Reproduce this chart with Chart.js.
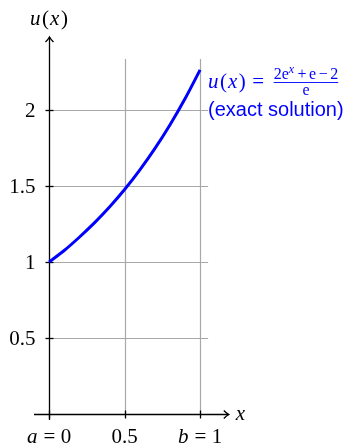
<!DOCTYPE html>
<html lang="en">
<head>
  <meta charset="UTF-8">
  <title>Exact solution u(x)</title>
  <script src="https://cdn.jsdelivr.net/npm/chart.js"></script>
  <style>
    body { margin: 0; background: #ffffff; }
    #wrap { width: 354px; height: 444px; }
  </style>
</head>
<body>
  <div id="wrap"><canvas id="solChart" width="354" height="444"></canvas></div>

  <script>
    // sampled points of the exact solution
    const xs = [0, 0.1, 0.2, 0.3, 0.4, 0.5, 0.6, 0.7, 0.8, 0.9, 1.0];
    const us = [1.0, 1.0756, 1.1629, 1.2574, 1.3619, 1.4773, 1.6049, 1.7459, 1.9017, 2.0739, 2.2642];

    // tick positions and their labels
    const xTicks = [0, 0.5, 1];
    const xTickLabels = ['a = 0', '0.5', 'b = 1'];
    const yTicks = [0.5, 1, 1.5, 2];
    const yTickLabels = ['0.5', '1', '1.5', '2'];

    const serif = '"Liberation Serif", "DejaVu Serif", serif';
    const sans = '"Liberation Sans", "DejaVu Sans", sans-serif';
    const blue = '#0000ff';
    const roman = s => s + 'px ' + serif;
    const italic = s => 'italic ' + s + 'px ' + serif;

    // math-style text: italic letters, upright digits/operators, extra space around '='
    function mathRuns(str, size) {
      const runs = [];
      for (const ch of str) {
        if (ch === ' ') continue;
        if (/[a-z]/.test(ch)) runs.push({ t: ch, f: italic(size), gap: 0.5 });
        else if (ch === '=') runs.push({ t: ch, f: roman(size), gap: 5.5, pre: 5.5 });
        else if (ch === '(' || ch === ')') runs.push({ t: ch, f: roman(size), gap: 1, pre: 1 });
        else runs.push({ t: ch, f: roman(size), gap: 0 });
      }
      return runs;
    }

    function runsWidth(c, runs) {
      let w = 0;
      runs.forEach(r => { c.font = r.f; w += (r.pre || 0) + c.measureText(r.t).width + r.gap; });
      return w;
    }

    function drawRuns(c, runs, x, y) {
      runs.forEach(r => {
        x += r.pre || 0;
        c.font = r.f;
        c.fillText(r.t, x, y + (r.dy || 0));
        x += c.measureText(r.t).width + r.gap;
      });
      return x;
    }

    function arrowHead(c, x, y, dir) {
      // small open arrow tip
      c.beginPath();
      if (dir === 'right') {
        c.moveTo(x - 5, y - 4); c.quadraticCurveTo(x - 2, y - 1, x, y);
        c.quadraticCurveTo(x - 2, y + 1, x - 5, y + 4);
      } else {
        c.moveTo(x - 4, y + 5); c.quadraticCurveTo(x - 1, y + 2, x, y);
        c.quadraticCurveTo(x + 1, y + 2, x + 4, y + 5);
      }
      c.stroke();
    }

    const axesPlugin = {
      id: 'axesPlugin',
      beforeDatasetsDraw(chart) {
        const c = chart.ctx;
        const sx = chart.scales.x, sy = chart.scales.y;
        const x0 = sx.getPixelForValue(0), y0 = sy.getPixelForValue(0);
        c.save();
        // grid
        c.strokeStyle = '#a8a8a8';
        c.lineWidth = 1.2;
        const gridTop = sy.getPixelForValue(2.335);
        const gridRight = sx.getPixelForValue(1.053);
        xTicks.forEach(v => {
          if (v === 0) return;
          const px = Math.round(sx.getPixelForValue(v)) + 0.5;
          c.beginPath(); c.moveTo(px, y0); c.lineTo(px, gridTop); c.stroke();
        });
        yTicks.forEach(v => {
          const py = Math.round(sy.getPixelForValue(v)) + 0.5;
          c.beginPath(); c.moveTo(x0, py); c.lineTo(gridRight, py); c.stroke();
        });
        // axes
        c.strokeStyle = '#000000';
        c.lineWidth = 1.3;
        const ax = Math.round(x0) + 0.5, ay = Math.round(y0) + 0.5;
        const xEnd = sx.getPixelForValue(1.19);
        const yEnd = sy.getPixelForValue(2.48);
        c.beginPath(); c.moveTo(sx.getPixelForValue(-0.1), ay); c.lineTo(xEnd, ay); c.stroke();
        c.beginPath(); c.moveTo(ax, sy.getPixelForValue(-0.04)); c.lineTo(ax, yEnd); c.stroke();
        arrowHead(c, xEnd, ay, 'right');
        arrowHead(c, ax, yEnd, 'up');
        // tick marks
        xTicks.forEach(v => {
          const px = Math.round(sx.getPixelForValue(v)) + 0.5;
          c.beginPath(); c.moveTo(px, ay - 4); c.lineTo(px, ay + 4); c.stroke();
        });
        yTicks.forEach(v => {
          const py = Math.round(sy.getPixelForValue(v)) + 0.5;
          c.beginPath(); c.moveTo(ax - 4, py); c.lineTo(ax + 4, py); c.stroke();
        });
        // tick labels
        c.fillStyle = '#000000';
        c.textBaseline = 'alphabetic';
        c.textAlign = 'left';
        yTicks.forEach((v, i) => {
          const runs = mathRuns(yTickLabels[i], 21);
          const w = runsWidth(c, runs);
          drawRuns(c, runs, ax - 14 - w, sy.getPixelForValue(v) + 7);
        });
        xTicks.forEach((v, i) => {
          const runs = mathRuns(xTickLabels[i], 21);
          const w = runsWidth(c, runs);
          drawRuns(c, runs, sx.getPixelForValue(v) - w / 2, ay + 28);
        });
        // axis names
        drawRuns(c, mathRuns('x', 21), xEnd + 7, ay + 5);
        const ul = mathRuns('u(x)', 21);
        drawRuns(c, ul, ax - runsWidth(c, ul) / 2, 25);
        c.restore();
      },
      afterDatasetsDraw(chart) {
        const c = chart.ctx;
        c.save();
        c.fillStyle = blue;
        c.strokeStyle = blue;
        c.textBaseline = 'alphabetic';
        c.textAlign = 'left';
        // u(x) = (2e^x + e - 2) / e
        let px = drawRuns(c, mathRuns('u(x)=', 21), 208, 88);
        const fx = px + 4;
        const num = [
          { t: '2e', f: roman(16), gap: 0 },
          { t: 'x', f: italic(12), gap: 1, dy: -6 },
          { t: '+', f: roman(16), gap: 2.5, pre: 2.5 },
          { t: 'e', f: roman(16), gap: 0 },
          { t: '\u2212', f: roman(16), gap: 2.5, pre: 2.5 },
          { t: '2', f: roman(16), gap: 0 }
        ];
        const fw = runsWidth(c, num);
        drawRuns(c, num, fx, 79);
        c.lineWidth = 0.9;
        c.beginPath(); c.moveTo(fx, 82.5); c.lineTo(fx + fw, 82.5); c.stroke();
        c.textAlign = 'center';
        c.font = roman(16);
        c.fillText('e', fx + fw / 2, 95);
        // caption
        c.textAlign = 'left';
        c.font = '20px ' + sans;
        c.fillText('(exact solution)', 208, 116);
        c.restore();
      }
    };

    const ctx = document.getElementById('solChart').getContext('2d');
    const solChart = new Chart(ctx, {
      type: 'line',
      data: {
        datasets: [{
          label: 'u(x)',
          data: xs.map((x, i) => ({ x: x, y: us[i] })),
          borderColor: blue,
          borderWidth: 3,
          pointRadius: 0,
          fill: false,
          cubicInterpolationMode: 'monotone'
        }]
      },
      options: {
        responsive: false,
        animation: false,
        layout: { padding: { left: 34, right: 123.7, top: 34, bottom: 14.8 } },
        scales: {
          x: { type: 'linear', min: -0.1, max: 1.2, display: false },
          y: { type: 'linear', min: -0.1, max: 2.5, display: false }
        },
        plugins: {
          legend: { display: false },
          tooltip: { enabled: false }
        }
      },
      plugins: [axesPlugin]
    });
  </script>
</body>
</html>
